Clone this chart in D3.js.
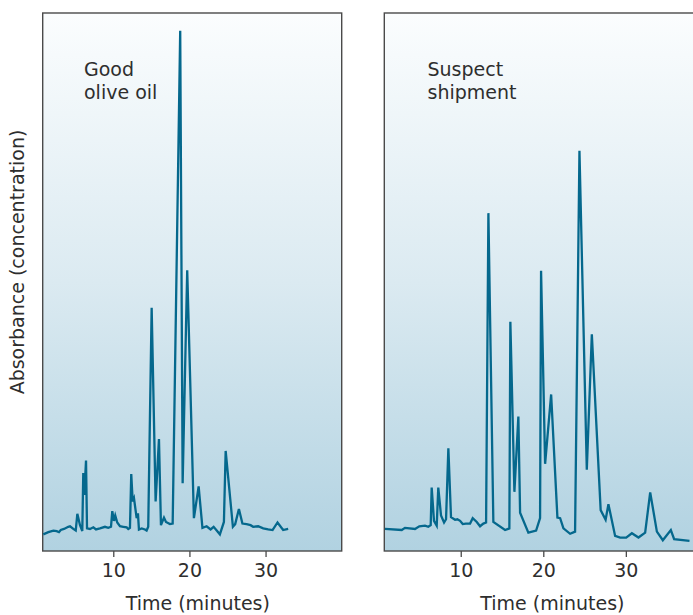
<!DOCTYPE html>
<html>
<head>
<meta charset="utf-8">
<script src="https://cdn.jsdelivr.net/npm/d3@7"></script>
<style>
  body { margin: 0; background: #fff; }
  svg text { font-family: "DejaVu Sans", sans-serif; fill: #2e2e2e; }
</style>
</head>
<body>
<svg id="chart" width="693" height="615"></svg>
<script>
// retention time (minutes) and absorbance (0-100)
var goodTime = [0.81, 1.47, 2.13, 2.57, 2.87, 3.10, 3.53, 4.09, 4.32, 4.75, 5.07, 5.28, 5.63, 5.93,
  6.06, 6.19, 6.42, 6.55, 6.94, 7.38, 7.73, 8.25, 8.91, 9.34, 9.70, 9.87, 10.09, 10.26, 10.52,
  10.88, 11.31, 11.76, 11.97, 12.19, 12.36, 12.55, 12.72, 13.07, 13.24, 13.37, 13.73, 14.16,
  14.38, 14.59, 15.04, 15.56, 16.00, 16.26, 16.66, 16.92, 17.44, 17.80, 18.79, 19.11, 19.71,
  20.59, 21.21, 21.71, 22.26, 22.78, 23.18, 24.00, 24.53, 24.76, 25.71, 26.01, 26.50, 26.96,
  27.51, 28.03, 28.37, 29.03, 29.69, 30.34, 30.92, 31.57, 32.31, 32.97];
var goodAbs = [3.1, 3.5, 3.8, 3.7, 3.5, 3.9, 4.1, 4.5, 4.6, 4.1, 3.8, 6.9, 4.8, 3.7,
  14.5, 10.4, 16.8, 4.2, 4.1, 4.4, 4.0, 4.2, 4.5, 4.3, 4.5, 7.4, 5.6, 6.6, 5.3,
  4.6, 4.5, 4.4, 4.1, 4.3, 14.3, 9.2, 9.8, 6.1, 7.0, 4.0, 4.2, 4.0,
  3.8, 4.5, 45.2, 9.2, 20.8, 4.8, 6.2, 5.4, 5.0, 5.1, 96.7, 12.6, 52.2,
  6.1, 12.0, 4.3, 4.6, 4.0, 4.5, 3.1, 5.4, 18.6, 4.5, 5.0, 7.8, 5.1,
  5.0, 4.8, 4.5, 4.6, 4.2, 4.0, 3.9, 5.3, 3.9, 4.1];

var suspectTime = [0.82, 2.85, 3.25, 4.46, 4.98, 5.67, 6.07, 6.36, 6.48, 6.76, 7.09, 7.28, 7.61,
  7.98, 8.22, 8.50, 8.82, 9.31, 9.59, 9.92, 10.24, 10.61, 11.13, 11.45, 11.94, 12.34, 12.74,
  13.07, 13.35, 13.95, 15.37, 15.89, 16.01, 16.50, 16.98, 17.19, 18.19, 19.13, 19.61, 19.73,
  20.22, 20.95, 21.71, 22.04, 22.44, 23.25, 23.85, 24.38, 25.27, 25.88, 26.95, 27.55, 27.89,
  28.70, 29.31, 30.04, 30.73, 31.53, 32.34, 32.95, 33.76, 34.48, 35.45, 35.85, 37.71];
var suspectAbs = [4.1, 3.9, 4.3, 4.1, 4.6, 4.7, 4.5, 4.8, 11.8, 5.6, 4.7, 11.8, 6.6,
  5.3, 5.9, 19.1, 6.3, 5.8, 5.9, 5.6, 5.0, 5.1, 5.1, 6.1, 5.4, 4.6, 5.1,
  5.3, 62.8, 5.4, 3.9, 4.2, 42.6, 11.0, 25.0, 7.1, 3.4, 3.8, 6.1, 52.1,
  16.2, 29.1, 6.2, 6.1, 4.2, 3.2, 3.6, 74.4, 15.1, 40.3, 7.6, 5.8, 8.7,
  2.8, 2.5, 2.5, 3.3, 2.5, 3.4, 10.9, 3.6, 2.0, 3.9, 2.2, 1.9];

var tickValues = [10, 20, 30];
var panelLabels = [["Good", "olive oil"], ["Suspect", "shipment"]];
var xLabel = "Time (minutes)";
var yLabel = "Absorbance (concentration)";

var svg = d3.select("#chart");
var plotTop = 13, plotBottom = 551;

var defs = svg.append("defs");
var grad = defs.append("linearGradient")
    .attr("id", "bg-grad")
    .attr("x1", 0).attr("y1", 0).attr("x2", 0).attr("y2", 1);
grad.append("stop").attr("offset", "0%").attr("stop-color", "#fbfdfe");
grad.append("stop").attr("offset", "50%").attr("stop-color", "#dbeaf1");
grad.append("stop").attr("offset", "100%").attr("stop-color", "#b1d2e1");

var y = d3.scaleLinear().domain([0, 100]).range([plotBottom, plotTop]);

var panels = [
  {x: d3.scaleLinear().domain([0.73, 40]).range([42.7, 341.7]), time: goodTime, abs: goodAbs, label: panelLabels[0], lx: 84},
  {x: d3.scaleLinear().domain([0.74, 40.8]).range([384.3, 715]), time: suspectTime, abs: suspectAbs, label: panelLabels[1], lx: 427.5}
];

panels.forEach(function(p, k) {
  var x0 = p.x.range()[0], x1 = p.x.range()[1];
  var g = svg.append("g");

  g.append("rect")
    .attr("x", x0).attr("y", plotTop)
    .attr("width", x1 - x0).attr("height", plotBottom - plotTop)
    .style("fill", "url(#bg-grad)")
    .style("stroke", "#4a4a4a")
    .style("stroke-width", 1.4);

  var pts = p.time.map(function(t, i) { return [t, p.abs[i]]; });
  var line = d3.line()
    .x(function(d) { return p.x(d[0]); })
    .y(function(d) { return y(d[1]); });

  g.append("path")
    .datum(pts)
    .attr("d", line)
    .style("fill", "none")
    .style("stroke", "#05688d")
    .style("stroke-width", 2.3)
    .style("stroke-linejoin", "miter");

  var axis = g.append("g")
    .attr("transform", "translate(0," + plotBottom + ")")
    .call(d3.axisBottom(p.x).tickValues(tickValues).tickSize(6).tickPadding(7));
  axis.select(".domain").remove();
  axis.selectAll("line").style("stroke", "#4a4a4a").style("stroke-width", 1.3);
  axis.selectAll("text")
    .style("font-size", "19px")
    .style("fill", "#2e2e2e")
    .attr("font-family", null);

  g.append("text")
    .attr("x", p.x(21.1))
    .attr("y", 610)
    .attr("text-anchor", "middle")
    .style("font-size", "19px")
    .text(xLabel);

  g.selectAll(".plabel")
    .data(p.label)
    .enter().append("text")
    .attr("class", "plabel")
    .attr("x", p.lx)
    .attr("y", function(d, i) { return 76 + i * 23; })
    .style("font-size", "19px")
    .text(function(d) { return d; });
});

svg.append("text")
  .attr("transform", "translate(24,262) rotate(-90)")
  .attr("text-anchor", "middle")
  .style("font-size", "19px")
  .text(yLabel);
</script>
</body>
</html>
